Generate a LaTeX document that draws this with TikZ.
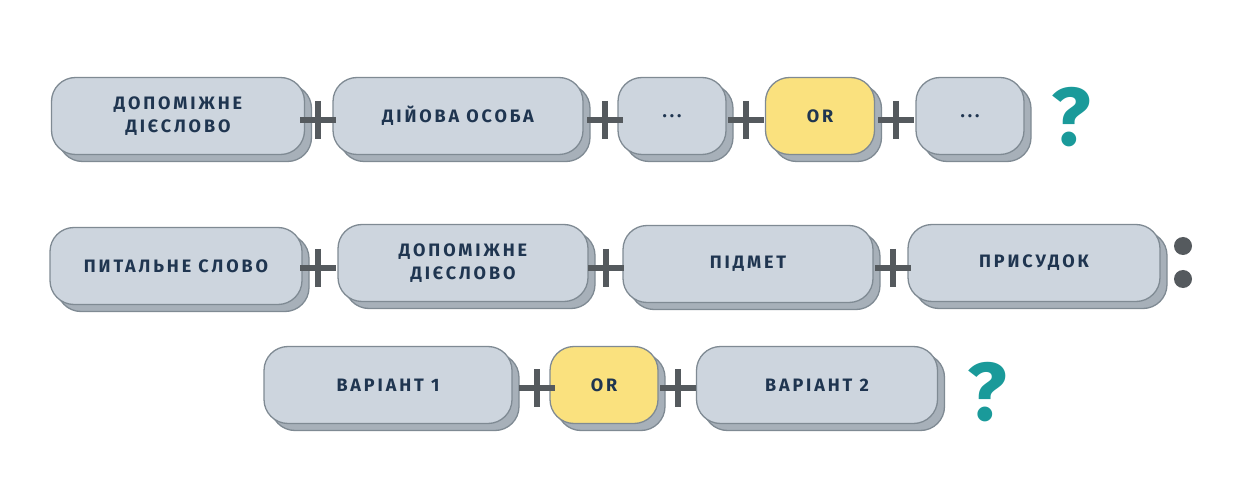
\documentclass[tikz,border=0pt]{standalone}
\usepackage{fontspec}
\setmainfont{Fira Sans}[LetterSpace=16,Scale=1]
\usetikzlibrary{shadows}
\definecolor{boxfill}{HTML}{CDD5DE}
\definecolor{boxline}{HTML}{7F8A93}
\definecolor{shad}{HTML}{A7B0B9}
\definecolor{txt}{HTML}{1F3550}
\definecolor{yel}{HTML}{FAE17E}
\definecolor{plusc}{HTML}{555A5E}
\definecolor{teal}{HTML}{1A9A9A}
\tikzset{
 box/.style={draw=boxline, fill=boxfill, line width=1.3pt, rounded corners=24pt,
   minimum height=77pt, text=txt, align=center, font=\fontsize{18}{23}\selectfont\bfseries,
   copy shadow={shadow xshift=7pt, shadow yshift=-7pt, fill=shad, draw=boxline}},
 ybox/.style={box, fill=yel},
 plus/.style={draw=plusc, line width=6.5pt},
 qm/.style={text=teal, font=\fontsize{82}{82}\selectfont\bfseries},
}
\newcommand{\plusat}[2]{\draw[plus] (#1-18,#2) -- (#1+18,#2); \draw[plus] (#1,#2-19) -- (#1,#2+19);}
\begin{document}
\begin{tikzpicture}[x=1pt,y=-1pt]
\useasboundingbox (0,0) rectangle (1236,494);
% row 1
\node[box, minimum width=253pt] (a1) at (178,116) {ДОПОМІЖНЕ\\ДІЄСЛОВО};
\node[box, minimum width=250pt] (a2) at (458,116) {ДІЙОВА ОСОБА};
\node[box, minimum width=108pt] (a3) at (672,116) {...};
\node[ybox, minimum width=109pt] (a4) at (820,116) {OR};
\node[box, minimum width=108pt] (a5) at (970,116) {...};
\node[qm] (q1) at (1071,117) {?};
\plusat{318}{120}\plusat{605}{120}\plusat{746}{120}\plusat{896}{120}
% row 2
\node[box, minimum width=252pt] (b1) at (176,266) {ПИТАЛЬНЕ СЛОВО};
\node[box, minimum width=250pt] (b2) at (463,263) {ДОПОМІЖНЕ\\ДІЄСЛОВО};
\node[box, minimum width=250pt] (b3) at (748,264) {ПІДМЕТ};
\node[box, minimum width=252pt] (b4) at (1034,263) {ПРИСУДОК};
\fill[plusc] (1183,246) circle (9pt) (1183,279) circle (9pt);
\plusat{318}{268}\plusat{606}{268}\plusat{893}{268}
% row 3
\node[box, minimum width=248pt] (c1) at (388,385) {ВАРІАНТ 1};
\node[ybox, minimum width=108pt] (c2) at (604,385) {OR};
\node[box, minimum width=241pt] (c3) at (817,385) {ВАРІАНТ 2};
\node[qm] (q2) at (987,392) {?};
\plusat{537}{388}\plusat{678}{388}
\end{tikzpicture}
\end{document}
